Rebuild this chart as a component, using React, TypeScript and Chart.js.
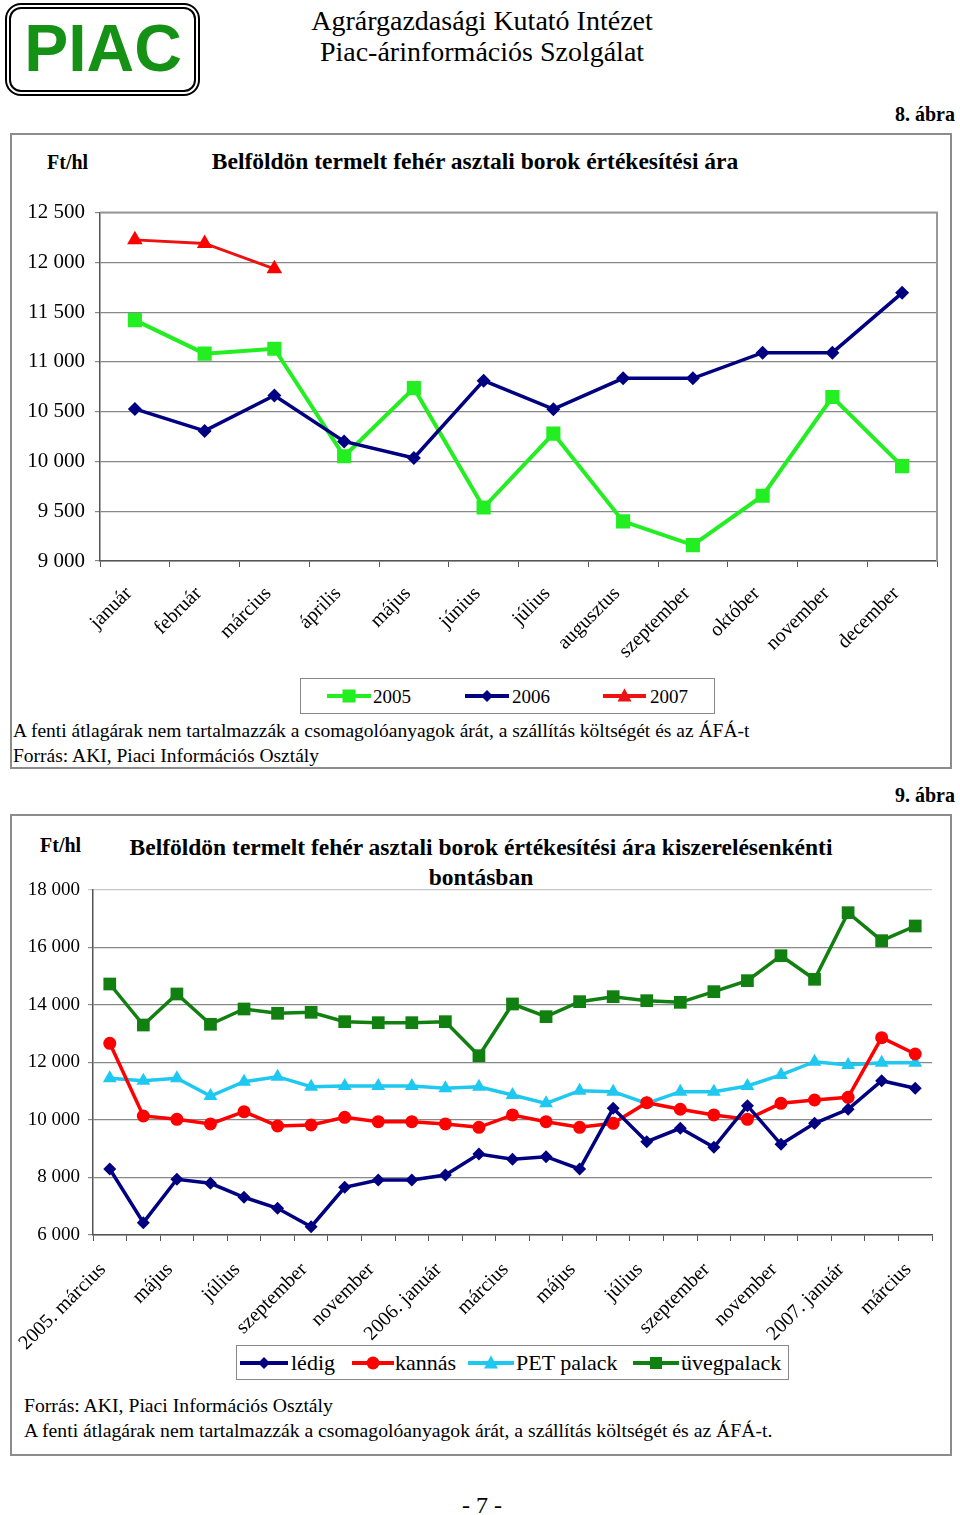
import React, { useEffect, useRef } from "react";
import { Chart, registerables } from "chart.js";
Chart.register(...registerables);

const SERIF = "'Liberation Serif', 'Times New Roman', serif";

// ---- Chart 1 data (8. ábra) ----
const months1 = ["január", "február", "március", "április", "május", "június", "július", "augusztus", "szeptember", "október", "november", "december"];
const y2005 = [11420, 11083, 11132, 10052, 10736, 9537, 10280, 9398, 9160, 9656, 10647, 9953];
const y2006 = [10528, 10307, 10663, 10201, 10035, 10812, 10525, 10835, 10835, 11093, 11093, 11694];
const y2007 = [12226, 12190, 11935];
const yMin1 = 9000;
const yMax1 = 12500;
const yStep1 = 500;

// ---- Chart 2 data (9. ábra) ----
const months2 = ["2005. március", "április", "május", "június", "július", "augusztus", "szeptember", "október", "november", "december", "2006. január", "február", "március", "április", "május", "június", "július", "augusztus", "szeptember", "október", "november", "december", "2007. január", "február", "március"];
const ledig = [8296, 6430, 7938, 7799, 7312, 6930, 6290, 7660, 7914, 7914, 8088, 8818, 8634, 8725, 8296, 10407, 9246, 9712, 9051, 10498, 9155, 9884, 10374, 11368, 11103];
const kannas = [12668, 10140, 10025, 9862, 10290, 9792, 9826, 10094, 9942, 9942, 9862, 9746, 10175, 9942, 9746, 9884, 10603, 10374, 10175, 10025, 10580, 10696, 10788, 12864, 12296];
const pet = [11451, 11368, 11451, 10835, 11333, 11507, 11159, 11183, 11183, 11183, 11103, 11159, 10870, 10580, 11020, 10985, 10580, 10985, 10985, 11183, 11566, 12029, 11913, 11994, 11994];
const uveg = [14730, 13304, 14383, 13329, 13861, 13711, 13746, 13420, 13385, 13385, 13420, 12237, 14035, 13594, 14116, 14290, 14150, 14093, 14464, 14846, 15715, 14894, 17211, 16237, 16748];
const yMin2 = 6000;
const yMax2 = 18000;
const yStep2 = 2000;

const C_GREEN = "#22ee22";
const C_NAVY = "#000080";
const C_RED = "#ee1111";
const C_RED2 = "#ff0000";
const C_CYAN = "#1ec8f0";
const C_DGREEN = "#118011";

const fmt = (v: number) => {
  const s = Math.round(v).toString();
  return s.replace(/\B(?=(\d{3})+(?!\d))/g, " ");
};

const frame1 = {
  id: "frame1",
  beforeDatasetsDraw(chart: any) {
    const { ctx, chartArea: a } = chart;
    ctx.save();
    ctx.strokeStyle = "#999";
    ctx.lineWidth = 2;
    ctx.beginPath();
    ctx.moveTo(a.left, a.top);
    ctx.lineTo(a.right, a.top);
    ctx.lineTo(a.right, a.bottom);
    ctx.stroke();
    ctx.restore();
  },
};

function ChartOne() {
  const ref = useRef<HTMLCanvasElement>(null);
  useEffect(() => {
    const chart = new Chart(ref.current!, {
      type: "line",
      data: {
        labels: months1,
        datasets: [
          { label: "2006", data: y2006, borderColor: C_NAVY, backgroundColor: C_NAVY, borderWidth: 3.5, pointStyle: "rectRot", pointRadius: 7, pointBorderWidth: 0, tension: 0 },
          { label: "2005", data: y2005, borderColor: C_GREEN, backgroundColor: C_GREEN, borderWidth: 4, pointStyle: "rect", pointRadius: 10, pointBorderWidth: 0, tension: 0 },
          { label: "2007", data: y2007, borderColor: C_RED, backgroundColor: C_RED2, borderWidth: 3, pointStyle: "triangle", pointRadius: 9, pointBorderWidth: 0, tension: 0 },
        ],
      } as any,
      options: {
        animation: false,
        responsive: false,
        maintainAspectRatio: false,
        events: [],
        layout: { padding: { top: 18, right: 15, left: 0, bottom: 0 } },
        plugins: { legend: { display: false }, tooltip: { enabled: false } },
        scales: {
          x: {
            offset: true,
            grid: { offset: true, drawOnChartArea: false, drawTicks: true, tickLength: 6, color: "#555" },
            border: { color: "#555", width: 1.5 },
            ticks: { autoSkip: false, maxRotation: 45, minRotation: 45, padding: 15, labelOffset: -6, color: "#000", font: { family: SERIF, size: 20 } },
            afterFit: (s: any) => { s.height = 109; },
          },
          y: {
            min: yMin1,
            max: yMax1,
            grid: { color: "#888", lineWidth: 1.2, tickLength: 5 },
            border: { color: "#555", width: 1.5 },
            ticks: { stepSize: yStep1, padding: 10, color: "#000", font: { family: SERIF, size: 21 }, callback: (v: any) => fmt(v) },
            afterFit: (s: any) => { s.width = 90; },
          },
        },
      } as any,
      plugins: [frame1],
    });
    return () => chart.destroy();
  }, []);
  return <canvas ref={ref} width={942} height={480} style={{ position: "absolute", left: 10, top: 190, width: 942, height: 480 }} />;
}

function ChartTwo() {
  const ref = useRef<HTMLCanvasElement>(null);
  useEffect(() => {
    const chart = new Chart(ref.current!, {
      type: "line",
      data: {
        labels: months2,
        datasets: [
          { label: "lédig", data: ledig, borderColor: C_NAVY, backgroundColor: C_NAVY, borderWidth: 3.5, pointStyle: "rectRot", pointRadius: 6.5, pointBorderWidth: 0, tension: 0 },
          { label: "kannás", data: kannas, borderColor: C_RED2, backgroundColor: C_RED2, borderWidth: 3.5, pointStyle: "circle", pointRadius: 6.5, pointBorderWidth: 0, tension: 0 },
          { label: "PET palack", data: pet, borderColor: C_CYAN, backgroundColor: C_CYAN, borderWidth: 3.5, pointStyle: "triangle", pointRadius: 8, pointBorderWidth: 0, tension: 0 },
          { label: "üvegpalack", data: uveg, borderColor: C_DGREEN, backgroundColor: C_DGREEN, borderWidth: 3.5, pointStyle: "rect", pointRadius: 9, pointBorderWidth: 0, tension: 0 },
        ],
      } as any,
      options: {
        animation: false,
        responsive: false,
        maintainAspectRatio: false,
        events: [],
        layout: { padding: { top: 20, right: 20, left: 0, bottom: 0 } },
        plugins: { legend: { display: false }, tooltip: { enabled: false } },
        scales: {
          x: {
            offset: true,
            grid: { offset: true, drawOnChartArea: false, drawTicks: true, tickLength: 6, color: "#555" },
            border: { color: "#555", width: 1.5 },
            ticks: {
              autoSkip: false, maxRotation: 45, minRotation: 45, padding: 17, labelOffset: -7, color: "#000",
              font: { family: SERIF, size: 20 },
              callback: function (this: any, v: any, i: number) { return i % 2 === 0 ? months2[i] : ""; },
            },
            afterFit: (s: any) => { s.height = 125; },
          },
          y: {
            min: yMin2,
            max: yMax2,
            grid: { color: (c: any) => (c.tick && c.tick.value === yMax2 ? "#c8c8c8" : "#888"), lineWidth: 1.2, tickLength: 5 },
            border: { color: "#555", width: 1.5 },
            ticks: { stepSize: yStep2, padding: 8, color: "#000", font: { family: SERIF, size: 19 }, callback: (v: any) => fmt(v) },
            afterFit: (s: any) => { s.width = 83; },
          },
        },
      } as any,
    });
    return () => chart.destroy();
  }, []);
  return <canvas ref={ref} width={942} height={490} style={{ position: "absolute", left: 10, top: 870, width: 942, height: 490 }} />;
}

type TProps = { x: number; y: number; size: number; bold?: boolean; align?: "left" | "center" | "right"; children: React.ReactNode; family?: string; color?: string };
function T({ x, y, size, bold, align = "left", children, family = SERIF, color = "#000" }: TProps) {
  const style: React.CSSProperties = {
    position: "absolute",
    top: y - size / 2,
    fontSize: size,
    lineHeight: 1,
    fontFamily: family,
    fontWeight: bold ? "bold" : "normal",
    whiteSpace: "nowrap",
    color,
  };
  if (align === "left") style.left = x;
  else if (align === "right") style.right = 960 - x;
  else { style.left = x; style.transform = "translateX(-50%)"; }
  return <div style={style}>{children}</div>;
}

function Sym({ x, y, w, color, shape, s }: { x: number; y: number; w: number; color: string; shape: string; s: number }) {
  const h = 20;
  const cx = w / 2;
  const cy = h / 2;
  let marker: React.ReactNode = null;
  if (shape === "rect") marker = <rect x={cx - s / 2} y={cy - s / 2} width={s} height={s} fill={color} />;
  else if (shape === "diamond") marker = <polygon points={`${cx},${cy - s / 2} ${cx + s / 2},${cy} ${cx},${cy + s / 2} ${cx - s / 2},${cy}`} fill={color} />;
  else if (shape === "triangle") marker = <polygon points={`${cx},${cy - s * 0.55} ${cx + s / 2},${cy + s * 0.4} ${cx - s / 2},${cy + s * 0.4}`} fill={color} />;
  else if (shape === "circle") marker = <circle cx={cx} cy={cy} r={s / 2} fill={color} />;
  return (
    <svg width={w} height={h} style={{ position: "absolute", left: x, top: y - h / 2 }}>
      <line x1={0} y1={cy} x2={w} y2={cy} stroke={color} strokeWidth={4} />
      {marker}
    </svg>
  );
}

export default function App() {
  return (
    <div style={{ position: "absolute", left: 0, top: 0, width: 960, height: 1515, overflow: "hidden", background: "#fff" }}>
      {/* Logo */}
      <div style={{ position: "absolute", left: 5, top: 3, width: 195, height: 93, boxSizing: "border-box", border: "2px solid #000", borderRadius: 16 }} />
      <div style={{ position: "absolute", left: 9, top: 7, width: 187, height: 85, boxSizing: "border-box", border: "2.5px solid #000", borderRadius: 12 }} />
      <T x={103} y={48} size={66} bold align="center" family="'Liberation Sans', Arial, sans-serif" color="#159215">PIAC</T>

      <T x={482} y={21} size={28} align="center">Agrárgazdasági Kutató Intézet</T>
      <T x={482} y={52} size={28} align="center">Piac-árinformációs Szolgálat</T>

      <T x={955} y={114} size={20} bold align="right">8. ábra</T>

      {/* Chart 1 frame */}
      <div style={{ position: "absolute", left: 10, top: 133, width: 942, height: 636, boxSizing: "border-box", border: "2px solid #8c8c8c" }} />
      <T x={47} y={162} size={20} bold>Ft/hl</T>
      <T x={475} y={162} size={23.5} bold align="center">Belföldön termelt fehér asztali borok értékesítési ára</T>
      <ChartOne />

      {/* Legend 1 */}
      <div style={{ position: "absolute", left: 300, top: 678, width: 415, height: 36, boxSizing: "border-box", border: "1px solid #888", background: "#fff" }} />
      <Sym x={327} y={696} w={44} color={C_GREEN} shape="rect" s={13} />
      <T x={373} y={696} size={19}>2005</T>
      <Sym x={465} y={696} w={44} color={C_NAVY} shape="diamond" s={12} />
      <T x={512} y={696} size={19}>2006</T>
      <Sym x={603} y={696} w={43} color={C_RED} shape="triangle" s={14} />
      <T x={650} y={696} size={19}>2007</T>

      <T x={13} y={731} size={19.5}>A fenti átlagárak nem tartalmazzák a csomagolóanyagok árát, a szállítás költségét és az ÁFÁ-t</T>
      <T x={13} y={756} size={19.5}>Forrás: AKI, Piaci Információs Osztály</T>

      <T x={955} y={795} size={20} bold align="right">9. ábra</T>

      {/* Chart 2 frame */}
      <div style={{ position: "absolute", left: 10, top: 814, width: 942, height: 642, boxSizing: "border-box", border: "2px solid #8c8c8c" }} />
      <T x={40} y={845} size={20} bold>Ft/hl</T>
      <T x={481} y={848} size={23.5} bold align="center">Belföldön termelt fehér asztali borok értékesítési ára kiszerelésenkénti</T>
      <T x={481} y={878} size={23.5} bold align="center">bontásban</T>
      <ChartTwo />

      {/* Legend 2 */}
      <div style={{ position: "absolute", left: 236, top: 1345, width: 553, height: 35, boxSizing: "border-box", border: "1px solid #888", background: "#fff" }} />
      <Sym x={240} y={1363} w={48} color={C_NAVY} shape="diamond" s={12} />
      <T x={291} y={1363} size={22}>lédig</T>
      <Sym x={352} y={1363} w={42} color={C_RED2} shape="circle" s={13} />
      <T x={395} y={1363} size={22}>kannás</T>
      <Sym x={468} y={1363} w={46} color={C_CYAN} shape="triangle" s={14} />
      <T x={516} y={1363} size={22}>PET palack</T>
      <Sym x={633} y={1363} w={46} color={C_DGREEN} shape="rect" s={12} />
      <T x={681} y={1363} size={22}>üvegpalack</T>

      <T x={24} y={1406} size={19.7}>Forrás: AKI, Piaci Információs Osztály</T>
      <T x={24} y={1431} size={19.7}>A fenti átlagárak nem tartalmazzák a csomagolóanyagok árát, a szállítás költségét és az ÁFÁ-t.</T>

      <T x={482} y={1505} size={24} align="center">- 7 -</T>
    </div>
  );
}
